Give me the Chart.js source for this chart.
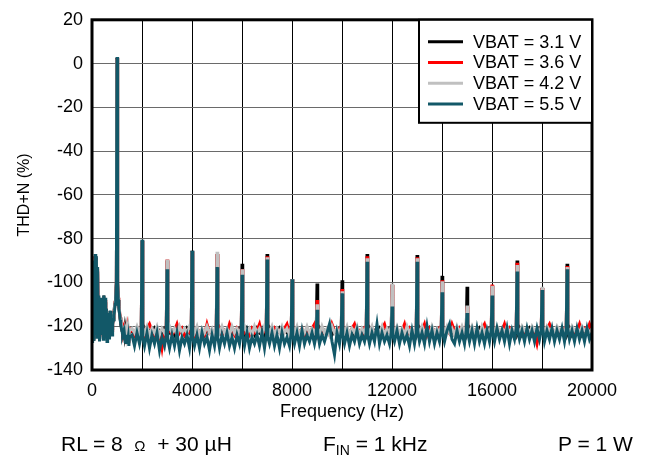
<!DOCTYPE html>
<html>
<head>
<meta charset="utf-8">
<script src="https://cdn.jsdelivr.net/npm/chart.js@4.4.1/dist/chart.umd.min.js"></script>
<style>
  html, body { margin: 0; padding: 0; background: #fff; }
  #wrap { position: relative; width: 647px; height: 463px; }
  .note { position: absolute; top: 432px; font: 21px 'Liberation Sans', Arial, sans-serif; color: #000; white-space: pre; line-height: 24px; }
  .note sub { font-size: 14px; vertical-align: -4px; line-height: 0; }
</style>
</head>
<body>
<div id="wrap">
  <canvas id="fftChart" width="647" height="463"></canvas>
  <div class="note" style="left:61px">RL = 8  <span style="font-size:15px">Ω</span>  + 30 µH</div>
  <div class="note" style="left:323px">F<sub>IN</sub> = 1 kHz</div>
  <div class="note" style="left:558px">P = 1 W</div>
</div>
<script>
// FFT bins (Hz): 25 Hz steps up to 1.5 kHz, then 100 Hz steps with
// extra bins 30 Hz either side of every harmonic
const freqHz = [
  0, 25, 50, 75, 100, 125, 150, 175,
  200, 225, 250, 275, 300, 325, 350, 375,
  400, 425, 450, 475, 500, 525, 550, 575,
  600, 625, 650, 675, 700, 725, 750, 775,
  800, 825, 850, 875, 900, 925, 950, 975,
  1000, 1025, 1050, 1075, 1100, 1125, 1150, 1175,
  1200, 1225, 1250, 1275, 1300, 1325, 1350, 1375,
  1400, 1425, 1450, 1475, 1500,
  1600, 1700, 1800, 1900,
  1970, 2000, 2030, 2100, 2200, 2300, 2400, 2500, 2600, 2700, 2800, 2900,
  2970, 3000, 3030, 3100, 3200, 3300, 3400, 3500, 3600, 3700, 3800, 3900,
  3970, 4000, 4030, 4100, 4200, 4300, 4400, 4500, 4600, 4700, 4800, 4900,
  4970, 5000, 5030, 5100, 5200, 5300, 5400, 5500, 5600, 5700, 5800, 5900,
  5970, 6000, 6030, 6100, 6200, 6300, 6400, 6500, 6600, 6700, 6800, 6900,
  6970, 7000, 7030, 7100, 7200, 7300, 7400, 7500, 7600, 7700, 7800, 7900,
  7970, 8000, 8030, 8100, 8200, 8300, 8400, 8500, 8600, 8700, 8800, 8900,
  8970, 9000, 9030, 9100, 9200, 9300, 9400, 9500, 9600, 9700, 9800, 9900,
  9970, 10000, 10030, 10100, 10200, 10300, 10400, 10500, 10600, 10700, 10800, 10900,
  10970, 11000, 11030, 11100, 11200, 11300, 11400, 11500, 11600, 11700, 11800, 11900,
  11970, 12000, 12030, 12100, 12200, 12300, 12400, 12500, 12600, 12700, 12800, 12900,
  12970, 13000, 13030, 13100, 13200, 13300, 13400, 13500, 13600, 13700, 13800, 13900,
  13970, 14000, 14030, 14100, 14200, 14300, 14400, 14500, 14600, 14700, 14800, 14900,
  14970, 15000, 15030, 15100, 15200, 15300, 15400, 15500, 15600, 15700, 15800, 15900,
  15970, 16000, 16030, 16100, 16200, 16300, 16400, 16500, 16600, 16700, 16800, 16900,
  16970, 17000, 17030, 17100, 17200, 17300, 17400, 17500, 17600, 17700, 17800, 17900,
  17970, 18000, 18030, 18100, 18200, 18300, 18400, 18500, 18600, 18700, 18800, 18900,
  18970, 19000, 19030, 19100, 19200, 19300, 19400, 19500, 19600, 19700, 19800, 19900,
  20000
];

// VBAT = 3.1 V
const vbat31 = [
  -125, -100, -126, -92, -122, -88, -122, -89,
  -123, -95, -121, -108, -126, -110, -122, -109,
  -121, -111, -125, -106, -122, -109, -124, -112,
  -124, -118, -123, -116, -123, -113, -122, -117,
  -121, -119, -117, -114, -111, -109, -106, -100,
  2.5, -100, -108, -111, -114, -116, -119, -120,
  -122, -121, -123, -122, -124, -121, -123, -122,
  -124, -122, -123, -121, -123,
  -122, -124, -121, -123,
  -122, -81, -123, -121, -124, -122, -123, -121, -124, -122, -123, -121,
  -122, -90, -121, -123, -122, -124, -121, -123, -122, -124, -121, -123,
  -122, -85.5, -122, -124, -121, -123, -122, -124, -121, -123, -122, -124,
  -122, -87, -123, -121, -124, -122, -123, -121, -124, -122, -123, -121,
  -122, -91.5, -122, -124, -121, -123, -122, -124, -121, -123, -122, -124,
  -122, -87, -123, -121, -124, -122, -123, -121, -124, -122, -123, -121,
  -122, -98.5, -122, -124, -121, -123, -122, -124, -121, -123, -122, -124,
  -122, -100.5, -123, -121, -124, -122, -123, -121, -124, -122, -123, -121,
  -122, -99, -122, -124, -121, -123, -122, -124, -121, -123, -122, -124,
  -122, -87, -123, -121, -124, -122, -123, -121, -124, -122, -123, -121,
  -122, -101, -122, -124, -121, -123, -122, -124, -121, -123, -122, -124,
  -122, -87.5, -123, -121, -124, -122, -123, -121, -124, -122, -123, -121,
  -122, -97, -122, -124, -121, -123, -122, -124, -121, -123, -122, -124,
  -122, -102, -123, -121, -124, -122, -123, -121, -124, -122, -123, -121,
  -122, -101.5, -122, -124, -121, -123, -122, -124, -121, -123, -122, -124,
  -122, -90, -123, -121, -124, -122, -123, -121, -124, -122, -123, -121,
  -122, -102.5, -122, -124, -121, -123, -122, -124, -121, -123, -122, -124,
  -122, -91.5, -123, -121, -124, -122, -123, -121, -124, -122, -123, -121,
  -121
];

// VBAT = 3.6 V
const vbat36 = [
  -126, -99, -125, -91, -123, -88, -121, -89,
  -124, -94, -122, -107, -125, -111, -123, -108,
  -122, -110, -124, -107, -121, -108, -123, -113,
  -125, -118, -122, -115, -124, -114, -121, -117,
  -122, -118, -116, -114, -112, -109, -106, -100,
  2.5, -100, -107, -111, -113, -116, -118, -120,
  -121, -122, -121, -123, -122, -124, -122, -123,
  -121, -124, -122, -123, -121,
  -122, -124, -121, -123,
  -122, -81, -122, -124, -121, -119, -122, -124, -121, -123, -130, -122,
  -122, -89.5, -123, -121, -124, -122, -119, -123, -121, -124, -122, -123,
  -122, -86, -122, -124, -121, -123, -122, -124, -119, -123, -122, -124,
  -122, -87, -123, -121, -124, -122, -123, -119, -122, -124, -121, -123,
  -122, -94, -121, -123, -122, -124, -121, -123, -122, -119, -124, -122,
  -121, -88, -123, -122, -124, -121, -123, -122, -124, -121, -119, -123,
  -122, -98.5, -121, -124, -122, -123, -121, -124, -122, -123, -121, -119,
  -122, -108, -122, -124, -121, -123, -122, -124, -119, -122, -123, -121,
  -122, -103, -121, -123, -122, -124, -121, -119, -123, -122, -124, -121,
  -122, -88, -122, -124, -121, -123, -122, -124, -121, -119, -123, -122,
  -121, -101, -122, -124, -121, -123, -122, -119, -124, -121, -123, -122,
  -122, -88.5, -121, -123, -122, -119, -124, -121, -123, -122, -124, -121,
  -122, -99, -122, -124, -121, -123, -119, -122, -124, -121, -123, -122,
  -121, -111, -122, -124, -121, -123, -122, -124, -121, -119, -123, -122,
  -121, -101, -122, -123, -121, -124, -122, -119, -123, -121, -124, -122,
  -121, -91, -122, -124, -121, -123, -122, -124, -121, -123, -128, -122,
  -121, -102.5, -122, -123, -121, -119, -122, -124, -121, -123, -122, -121,
  -121, -92.5, -122, -124, -121, -123, -122, -119, -123, -121, -122, -119,
  -122
];

// VBAT = 4.2 V
const vbat42 = [
  -125, -99, -124, -91, -122, -89, -120, -90,
  -123, -95, -121, -108, -124, -111, -122, -108,
  -121, -110, -123, -107, -120, -108, -122, -113,
  -124, -118, -121, -115, -123, -114, -120, -117,
  -121, -118, -116, -114, -112, -109, -106, -100,
  2, -100, -107, -111, -113, -116, -118, -119,
  -120, -121, -122, -121, -123, -121, -122, -124,
  -121, -123, -121, -124, -122,
  -121, -123, -120, -123,
  -121, -80.5, -121, -123, -120, -124, -121, -123, -120, -124, -121, -123,
  -121, -89.5, -122, -120, -123, -121, -124, -120, -123, -121, -123, -120,
  -121, -86, -121, -123, -120, -124, -121, -123, -120, -123, -121, -124,
  -120, -86, -121, -123, -120, -123, -121, -124, -120, -123, -121, -123,
  -121, -94, -122, -120, -123, -121, -124, -120, -123, -121, -124, -120,
  -121, -88.5, -121, -123, -120, -124, -121, -123, -120, -123, -121, -124,
  -120, -98.5, -121, -123, -120, -124, -121, -123, -120, -123, -121, -123,
  -121, -110, -121, -124, -120, -123, -121, -124, -120, -123, -121, -124,
  -120, -104, -121, -123, -120, -124, -121, -123, -120, -124, -121, -123,
  -120, -89, -121, -123, -120, -124, -121, -123, -120, -124, -121, -123,
  -120, -100.5, -121, -123, -120, -123, -121, -124, -120, -123, -121, -124,
  -120, -89, -121, -123, -120, -123, -121, -124, -120, -123, -121, -123,
  -120, -99.5, -121, -123, -120, -123, -121, -124, -120, -123, -120, -123,
  -120, -110.5, -121, -123, -120, -123, -121, -124, -120, -123, -121, -123,
  -120, -101.5, -121, -123, -120, -122, -121, -123, -120, -123, -121, -122,
  -120, -92, -121, -123, -120, -122, -121, -123, -120, -122, -121, -123,
  -120, -102, -121, -123, -120, -122, -121, -123, -120, -122, -121, -123,
  -120, -93, -121, -123, -120, -122, -121, -123, -120, -122, -121, -123,
  -121
];

// VBAT = 5.5 V
const vbat55 = [
  -127, -98, -126, -90, -124, -87, -121, -88,
  -125, -93, -123, -106, -127, -110, -124, -107,
  -122, -109, -126, -106, -121, -107, -125, -112,
  -127, -118, -124, -114, -126, -113, -122, -117,
  -124, -119, -117, -115, -113, -110, -107, -100,
  3, -100, -108, -112, -114, -117, -119, -121,
  -122, -124, -123, -126, -124, -127, -125, -128,
  -124, -127, -125, -129, -125,
  -124, -129, -123, -128,
  -124, -80.5, -125, -129, -123, -130, -124, -128, -123, -131, -125, -129,
  -124, -94, -126, -130, -124, -129, -123, -131, -125, -128, -124, -130,
  -123, -85.5, -125, -129, -124, -130, -123, -128, -125, -131, -124, -129,
  -123, -93, -125, -130, -124, -128, -123, -129, -125, -130, -124, -128,
  -123, -96.5, -124, -129, -123, -130, -125, -128, -124, -129, -123, -130,
  -124, -89.5, -125, -128, -123, -129, -124, -130, -123, -128, -125, -129,
  -123, -98.5, -124, -128, -123, -129, -122, -128, -124, -127, -123, -128,
  -124, -112.5, -123, -128, -124, -127, -123, -119, -127, -133, -123, -128,
  -122, -105, -124, -128, -123, -129, -124, -127, -122, -128, -124, -127,
  -123, -90.5, -124, -128, -123, -127, -119, -128, -123, -127, -124, -128,
  -123, -111, -124, -127, -122, -128, -123, -127, -124, -129, -122, -128,
  -123, -90.5, -122, -127, -123, -128, -120, -127, -122, -128, -123, -127,
  -122, -104.5, -123, -127, -122, -119, -126, -128, -122, -127, -123, -128,
  -122, -114, -123, -127, -122, -128, -121, -127, -123, -128, -122, -127,
  -122, -106, -123, -127, -121, -126, -122, -127, -121, -128, -122, -126,
  -121, -95, -122, -126, -122, -127, -121, -126, -122, -127, -121, -126,
  -122, -103.5, -121, -127, -122, -126, -121, -127, -122, -126, -121, -127,
  -122, -94, -121, -126, -122, -127, -121, -126, -122, -127, -121, -126,
  -123
];

const seriesLabels = ['VBAT = 3.1 V', 'VBAT = 3.6 V', 'VBAT = 4.2 V', 'VBAT = 5.5 V'];
const seriesValues = [vbat31, vbat36, vbat42, vbat55];
const seriesColors = ['#000000', '#ff0000', '#c0c0c0', '#125868'];
const xTickLabels = [0, 4000, 8000, 12000, 16000, 20000];

const FONT = "'Liberation Sans', Arial, sans-serif";

// frame round the plot + boxed legend inside the top right corner
const frameLegend = {
  id: 'frameLegend',
  afterDatasetsDraw(chart) {
    const { ctx, chartArea: a } = chart;
    ctx.save();
    ctx.strokeStyle = '#000';
    ctx.lineWidth = 3;
    ctx.strokeRect(a.left, a.top, a.right - a.left, a.bottom - a.top);

    const bw = 173, bh = 103;
    const bx = a.right - bw, by = a.top;
    ctx.fillStyle = '#fff';
    ctx.fillRect(bx, by, bw, bh);
    ctx.lineWidth = 2;
    ctx.strokeRect(bx, by, bw, bh);

    ctx.font = '18px ' + FONT;
    ctx.textBaseline = 'middle';
    chart.data.datasets.forEach((ds, i) => {
      const y = by + 22 + i * 20.7;
      ctx.strokeStyle = ds.borderColor;
      ctx.lineWidth = 3;
      ctx.beginPath();
      ctx.moveTo(bx + 9, y);
      ctx.lineTo(bx + 44, y);
      ctx.stroke();
      ctx.fillStyle = '#000';
      ctx.fillText(ds.label, bx + 54, y + 1);
    });
    ctx.restore();
  }
};

new Chart(document.getElementById('fftChart'), {
  type: 'line',
  data: {
    datasets: seriesValues.map((vals, i) => ({
      label: seriesLabels[i],
      data: vals.map((v, j) => ({ x: freqHz[j], y: v })),
      borderColor: seriesColors[i],
      borderWidth: 3,
      pointRadius: 0,
      tension: 0,
      order: seriesValues.length - 1 - i   // 5.5 V on top
    }))
  },
  options: {
    responsive: false,
    animation: false,
    events: [],
    layout: { padding: { left: 0, right: 55, top: 17, bottom: 33 } },
    plugins: { legend: { display: false }, tooltip: { enabled: false } },
    scales: {
      x: {
        type: 'linear',
        min: 0,
        max: 20000,
        afterFit: s => { s.height = 60; },
        afterBuildTicks: s => { s.ticks = []; for (let v = 0; v <= 20000; v += 2000) s.ticks.push({ value: v }); },
        ticks: {
          padding: 10,
          color: '#000',
          font: { family: FONT, size: 18 },
          maxRotation: 0,
          autoSkip: false,
          callback: v => xTickLabels.includes(v) ? String(v) : ''
        },
        grid: { color: '#000', lineWidth: 1, drawTicks: false },
        border: { display: false },
        title: {
          display: true,
          text: 'Frequency (Hz)',
          color: '#000',
          font: { family: FONT, size: 18 },
          padding: { top: 0, bottom: 7 }
        }
      },
      y: {
        min: -140,
        max: 20,
        afterFit: s => { s.width = 92; },
        ticks: {
          stepSize: 20,
          padding: 9,
          color: '#000',
          font: { family: FONT, size: 18 }
        },
        grid: { color: '#6a6a6a', lineWidth: 1, drawTicks: false },
        border: { display: false },
        title: {
          display: true,
          text: 'THD+N (%)',
          color: '#000',
          font: { family: FONT, size: 16 },
          padding: { top: 15, bottom: 0 }
        }
      }
    }
  },
  plugins: [frameLegend]
});
</script>
</body>
</html>
